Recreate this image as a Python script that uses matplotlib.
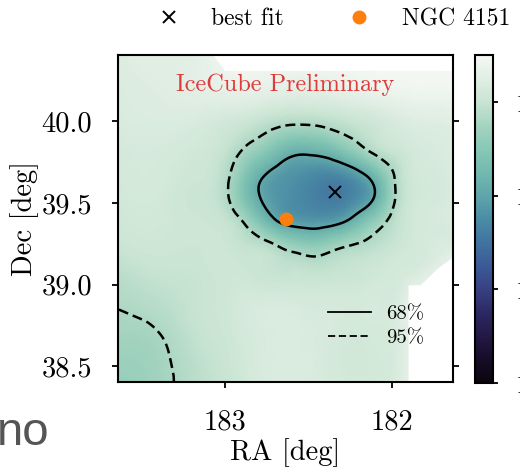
import numpy as np
import matplotlib
matplotlib.use("Agg")
import matplotlib.pyplot as plt
import matplotlib.tri as mtri
from matplotlib.lines import Line2D
from matplotlib.colors import LinearSegmentedColormap

# ---------------- data ----------------
ra_nodes = [183.64, 183.40, 183.15, 183.00, 182.88, 182.76, 182.61, 182.46,
            182.31, 182.19, 182.09, 181.98, 181.83, 181.63]
dec_nodes = [40.41, 40.20, 39.98, 39.82, 39.65, 39.52, 39.38, 39.25,
             39.10, 38.90, 38.70, 38.55, 38.40]
nan = np.nan
llh_grid = [
    [116.0, 116.2, 116.4, nan, nan, nan, nan, nan, nan, nan, nan, nan, nan, nan],
    [115.9, 116.1, 116.4, 116.6, 116.7, 116.6, 116.4, 116.4, 116.6, 116.8, 117.0, 117.1, 117.2, 117.2],
    [115.8, 115.9, 115.7, 115.4, 115.1, 114.6, 114.05, 114.1, 114.6, 115.0, 115.3, 115.7, 116.0, 116.2],
    [115.6, 115.7, 115.4, 114.9, 113.8, 112.6, 111.0, 110.9, 112.0, 113.4, 114.5, 115.1, 115.7, 116.0],
    [115.5, 115.6, 115.2, 114.4, 112.2, 110.1, 109.05, 108.45, 108.4, 109.45, 111.3, 114.1, 115.5, 115.9],
    [115.4, 115.5, 115.1, 114.4, 112.15, 110.0, 108.85, 108.2, 108.05, 109.1, 110.9, 114.05, 115.5, 115.9],
    [115.3, 115.4, 115.2, 115.0, 113.9, 111.7, 109.85, 109.5, 110.15, 111.8, 113.3, 114.7, 115.6, 115.9],
    [115.1, 115.3, 115.2, 115.2, 114.8, 114.4, 113.15, 112.6, 113.5, 114.1, 114.6, 115.1, 115.6, 115.9],
    [114.6, 115.0, 115.1, 115.3, 115.2, 115.0, 114.8, 114.7, 114.9, 115.1, 115.3, 115.5, 115.8, nan],
    [114.1, 114.5, 115.0, 115.3, 115.6, 115.7, 115.7, 115.6, 115.6, 115.6, 115.7, 115.8, nan, nan],
    [113.7, 113.95, 114.9, 115.2, 115.6, 115.8, 115.9, 115.8, 115.6, 115.5, 115.6, 115.8, nan, nan],
    [113.4, 113.7, 114.7, 115.1, 115.5, 115.8, 115.9, 115.8, 115.5, 115.4, 115.5, 115.8, nan, nan],
    [113.1, 113.6, 114.6, 115.0, 115.5, 115.8, 115.9, 115.8, 115.6, 115.5, 115.6, 115.9, nan, nan],
]
contour_levels = [110.3, 114.0]
contour_labels = ["68%", "95%"]
cbar_ticks = [100, 105, 110, 115]
cbar_range = [100, 117.5]
best_fit_ra, best_fit_dec = [182.34], [39.57]
src_ra, src_dec = [182.636], [39.405]
ra_lim = [183.636, 181.636]
dec_lim = [38.405, 40.405]
ra_ticks = [183, 182]
dec_ticks = [38.5, 39.0, 39.5, 40.0]
cmap_colors = ["#0a050f", "#160c28", "#231946", "#2d2864", "#374182", "#3c5a96",
               "#4173a0", "#4b8ca5", "#5fa5aa", "#73b9af", "#87c8b6", "#a5d4c0",
               "#c8e4d2", "#e1eee4", "#f4f8f4"]

# ---------------- style ----------------
plt.rcParams["font.family"] = ["cmr10"]
plt.rcParams["mathtext.fontset"] = "cm"
plt.rcParams["axes.unicode_minus"] = False
plt.rcParams["axes.formatter.use_mathtext"] = True

fig = plt.figure(figsize=(5.2, 4.75), dpi=100)
W, H = 520.0, 475.0
ax = fig.add_axes([118 / W, 1 - 382 / H, 335 / W, 327 / H])
cax = fig.add_axes([475 / W, 1 - 383 / H, 18 / W, 328 / H])

cmap = LinearSegmentedColormap.from_list("ref_mako", cmap_colors)

RA, DEC = np.meshgrid(ra_nodes, dec_nodes)
Z = np.array(llh_grid, dtype=float)
valid = np.isfinite(Z)
Zfill = np.where(valid, Z, np.nanmax(Z)).ravel()
tri = mtri.Triangulation(RA.ravel(), DEC.ravel())
refiner = mtri.UniformTriRefiner(tri)
tri_f, z_f = refiner.refine_field(
    Zfill, triinterpolator=mtri.CubicTriInterpolator(tri, Zfill, kind="min_E"), subdiv=4)
vflt = valid.ravel().astype(float)
_, v_f = refiner.refine_field(vflt, triinterpolator=mtri.LinearTriInterpolator(tri, vflt), subdiv=4)
tri_f.set_mask(v_f[tri_f.triangles].mean(axis=1) < 0.5)

mesh = ax.tripcolor(tri_f, z_f, shading="gouraud", cmap=cmap,
                    vmin=cbar_range[0], vmax=cbar_range[1], rasterized=True)
ax.tricontour(tri_f, z_f, levels=[contour_levels[0]], colors="k", linewidths=1.8,
              linestyles="solid")
ax.tricontour(tri_f, z_f, levels=[contour_levels[1]], colors="k", linewidths=1.8,
              linestyles=[(0, (4, 2))])

ax.plot(best_fit_ra, best_fit_dec, ls="none", marker="x", color="k", ms=8, mew=1.4, zorder=5)
ax.plot(src_ra, src_dec, ls="none", marker="o", color="#ff7f0e", ms=9, zorder=5)

ax.set_xlim(ra_lim)
ax.set_ylim(dec_lim)
ax.set_xticks(ra_ticks)
ax.set_xticklabels([f"{t:d}" for t in ra_ticks])
ax.set_yticks(dec_ticks)
ax.set_yticklabels([f"{t:.1f}" for t in dec_ticks])
ax.tick_params(direction="out", length=4.5, width=1.3, labelsize=20.5, pad=14,
               left=True, right=True, bottom=True, top=False)
ax.tick_params(axis="x", pad=15)
for s in ax.spines.values():
    s.set_linewidth(1.5)
ax.set_xlabel("RA [deg]", fontsize=20.5, labelpad=2)
ax.set_ylabel("Dec [deg]", fontsize=20.5, labelpad=2)

ax.text(0.5, 0.908, "IceCube Preliminary", transform=ax.transAxes, ha="center",
        va="center", color="#e03a3a", fontsize=17.5)

h = [Line2D([], [], color="k", lw=1.3, ls="solid"),
     Line2D([], [], color="k", lw=1.3, ls=(0, (4, 2)))]
ax.legend(h, contour_labels, loc="lower right", bbox_to_anchor=(0.97, 0.05),
          frameon=False, fontsize=15, handlelength=2.1, handletextpad=0.7,
          labelspacing=0.25)

cb = fig.colorbar(mesh, cax=cax, ticks=cbar_ticks)
cb.outline.set_linewidth(1.5)
cax.tick_params(direction="out", length=3.6, width=1.3, labelsize=19.5, pad=12.5)
cb.ax.set_yticklabels([str(t) for t in cbar_ticks])

fh = [Line2D([], [], ls="none", marker="x", color="k", ms=8, mew=1.4),
      Line2D([], [], ls="none", marker="o", color="#ff7f0e", ms=9)]
fig.legend(fh, ["best fit", "NGC 4151"], ncol=2, loc="center",
           bbox_to_anchor=(0.63, 0.96), frameon=False, fontsize=17,
           handletextpad=0.8, columnspacing=2.2)

fig.text(-0.006, 0.063, "no", fontsize=34, color="#555555",
         family="Liberation Sans", va="baseline", ha="left")

fig.savefig("out.png", dpi=100)
